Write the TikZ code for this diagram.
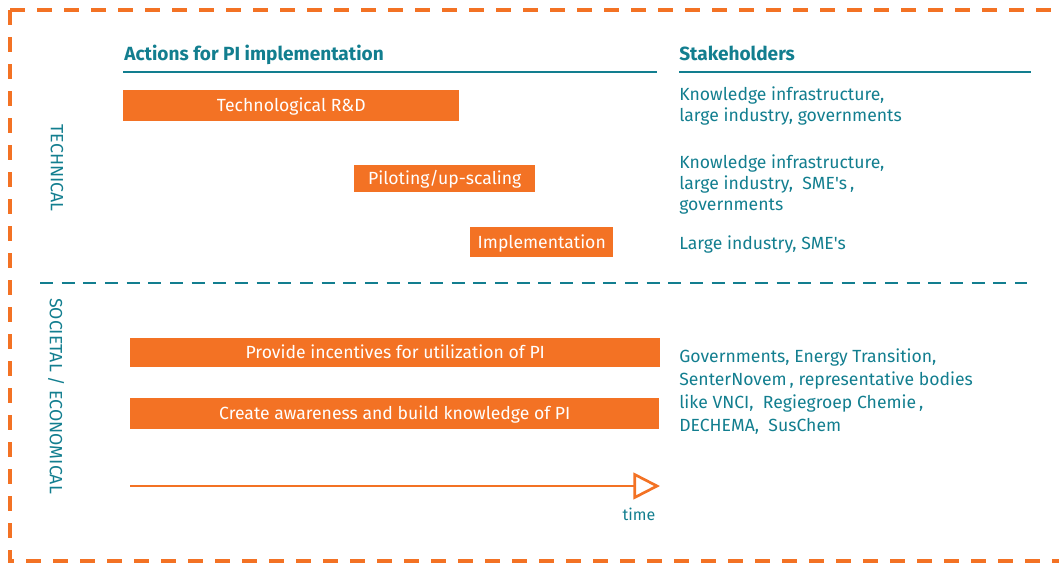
\documentclass[tikz,border=0pt]{standalone}
\usepackage{fontspec}
\setmainfont{Fira Sans}
\usetikzlibrary{arrows.meta,positioning}
\definecolor{piorange}{RGB}{243,114,36}
\definecolor{piteal}{RGB}{18,126,143}

\begin{document}
\begin{tikzpicture}[x=0.75pt,y=-0.75pt,
  bar/.style={fill=piorange,text=white,anchor=north west,inner sep=0pt,text height=9.1pt,text depth=0pt,font=\fontsize{13.2}{15}\selectfont},
  stake/.style={text=piteal,anchor=base west,align=left,inner sep=0pt,font=\fontsize{13.2}{15.75}\selectfont},
  head/.style={text=piteal,anchor=base west,inner sep=0pt,font=\fontsize{14.3}{16}\selectfont\bfseries},
  side/.style={text=piteal,rotate=-90,inner sep=0pt,font=\fontsize{13.3}{15}\selectfont}]
  \useasboundingbox (0,0) rectangle (1059,564);

  % frame and dividers
  \draw[piorange,line width=3pt,dash pattern=on 11.25pt off 9pt]
    (10,10) -- (1075,10) (10,10) -- (10,561) -- (1075,561);
  \draw[piteal,line width=2pt,dash pattern=on 9.75pt off 6.5pt] (40,283) -- (1027,283);
  \draw[piteal,line width=1.2pt] (123,72) -- (657,72) (679,72) -- (1031,72);

  \node[head] (acts) at (124,60) {Actions for PI implementation};
  \node[head] (stk)  at (679,60) {Stakeholders};
  \node[side] (tech) at (57,168) {TECHNICAL};
  \node[side] (soc)  at (56,396) {SOCIETAL / ECONOMICAL};

  % actions
  \node[bar,minimum width=252pt,minimum height=23.25pt]    (rd)     at (123,90)  {Technological R\&D};
  \node[bar,minimum width=135.75pt,minimum height=20.25pt] (pilot)  at (354,165) {Piloting/up-scaling};
  \node[bar,minimum width=107.25pt,minimum height=22.5pt]  (impl)   at (470,227) {Implementation};
  \node[bar,minimum width=397.5pt,minimum height=21.75pt]  (incent) at (130,338) {Provide incentives for utilization of PI};
  \node[bar,minimum width=396.75pt,minimum height=23.25pt] (aware)  at (130,398) {Create awareness and build knowledge of PI};

  % stakeholders (anchored on the last line)
  \node[stake] (s1) at (679,121) {Knowledge infrastructure,\\large industry, governments};
  \node[stake] (s2) at (679,210) {Knowledge infrastructure,\\large industry,\ \ SME\textquotesingle s\,,\\governments};
  \node[stake] (s3) at (679,249) {Large industry, SME\textquotesingle s};
  \node[stake,font=\fontsize{13.2}{17.25}\selectfont] (s4) at (679,431)
    {Governments, Energy Transition,\\SenterNovem\,, representative bodies\\like VNCI,\ \ Regiegroep Chemie\,,\\DECHEMA,\ \ SusChem};

  % time axis
  \coordinate (t0) at (130,486);
  \coordinate (t1) at (660,486);
  \draw[piorange,line width=2pt,-{Triangle[open,length=20pt,width=20pt]}] (t0) -- (t1);
  \node[text=piteal,font=\fontsize{12}{14}\selectfont] (time) at (639,514) {time};
\end{tikzpicture}
\end{document}
